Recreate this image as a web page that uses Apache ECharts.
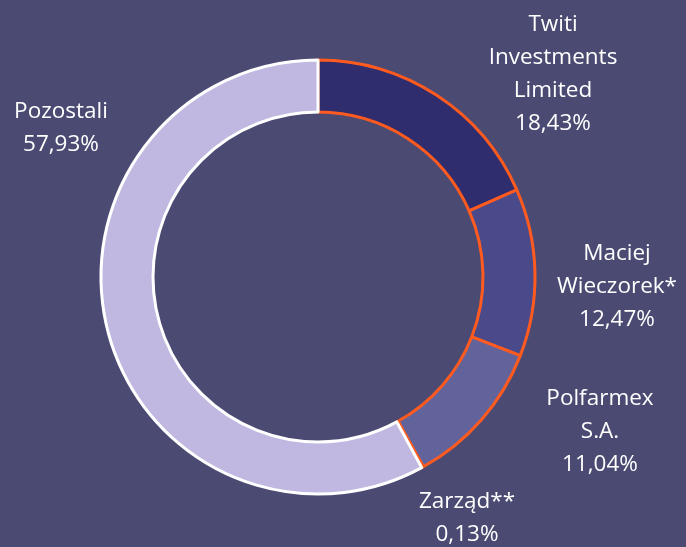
<!DOCTYPE html>
<html>
<head>
<meta charset="utf-8">
<script src="https://cdn.jsdelivr.net/npm/echarts@6/dist/echarts.min.js"></script>
<style>
html,body{margin:0;padding:0;background:#4a4a73;}
#chart{width:686px;height:547px;}
</style>
</head>
<body>
<div id="chart"></div>
<script>
const categories = ['Twiti\nInvestments\nLimited', 'Maciej\nWieczorek*', 'Polfarmex\nS.A.', 'Zarząd**', 'Pozostali'];
const values = [18.43, 12.47, 11.04, 0.13, 57.93];
const fillColors = ['#2f2d6e', '#4a4a8b', '#63639c', '#3a3a7a', '#c0b8e0'];
const borderColors = ['#ff5a1f', '#ff5a1f', '#ff5a1f', '#ff5a1f', '#ffffff'];
const labelPos = [[553, 74], [617, 287], [600, 432], [467, 518], [61, 128]];

const chart = echarts.init(document.getElementById('chart'), null, {renderer: 'canvas'});
chart.setOption({
  backgroundColor: '#4a4a73',
  animation: false,
  series: [{
    type: 'pie',
    center: [318, 277],
    radius: [165, 217],
    startAngle: 90,
    clockwise: true,
    avoidLabelOverlap: false,
    label: {
      show: true,
      position: 'outside',
      color: '#ffffff',
      fontFamily: 'Open Sans',
      fontSize: 22.5,
      lineHeight: 33,
      align: 'center',
      formatter: p => p.name + '\n' + p.value.toFixed(2).replace('.', ',') + '%'
    },
    labelLine: {show: false},
    labelLayout: p => ({
      x: labelPos[p.dataIndex][0],
      y: labelPos[p.dataIndex][1],
      align: 'center',
      verticalAlign: 'middle'
    }),
    emphasis: {disabled: true},
    data: categories.map((c, i) => ({
      name: c,
      value: values[i],
      itemStyle: {color: fillColors[i], borderColor: borderColors[i], borderWidth: 3}
    }))
  }]
});
</script>
</body>
</html>
